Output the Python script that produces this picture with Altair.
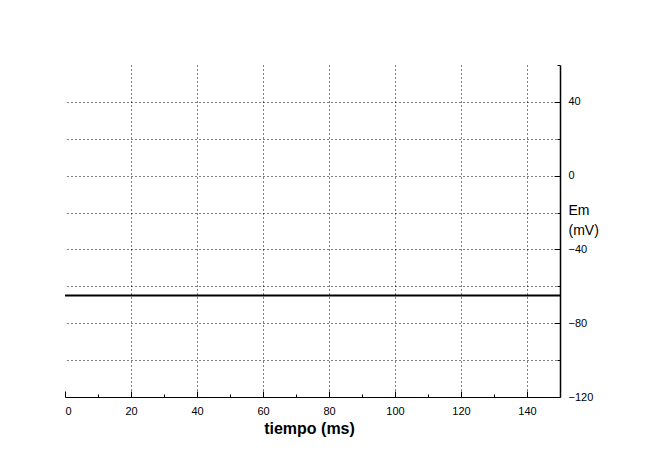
import altair as alt
import pandas as pd

# Data
time_ms = [0, 150]
em_mv = [-65, -65]

x_major = [0, 20, 40, 60, 80, 100, 120, 140]
x_minor = [10, 30, 50, 70, 90, 110, 130]
x_grid = [20, 40, 60, 80, 100, 120, 140]
y_major = [-120, -80, -40, 0, 40]
y_minor = [-100, -60, -20, 20, 60]
y_grid = [-100, -80, -60, -40, -20, 0, 20, 40]

df = pd.DataFrame({"t": time_ms, "em": em_mv})

FONT = "Liberation Sans"
xscale = alt.Scale(domain=[0, 150], nice=False, zero=False)
yscale = alt.Scale(domain=[-120, 60], nice=False, zero=False)

grid_layer = alt.Chart(df).mark_line(opacity=0).encode(
    x=alt.X("t:Q", scale=xscale, axis=alt.Axis(
        orient="bottom", values=x_grid, ticks=False, labels=False, domain=False,
        title=None, grid=True, gridColor="black", gridDash=[1, 3], gridWidth=1)),
    y=alt.Y("em:Q", scale=yscale, axis=alt.Axis(
        orient="right", values=y_grid, ticks=False, labels=False, domain=False,
        title=None, grid=True, gridColor="black", gridDash=[1, 3], gridWidth=1)),
)

minor = alt.Chart(df).mark_line(opacity=0).encode(
    x=alt.X("t:Q", scale=xscale, axis=alt.Axis(
        orient="bottom", values=x_minor, tickSize=alt.ExprRef("-3"),
        tickColor="black", tickWidth=1, domain=False, labels=False, title=None,
        grid=False)),
    y=alt.Y("em:Q", scale=yscale, axis=alt.Axis(
        orient="right", values=y_minor, tickSize=alt.ExprRef("-3"),
        tickColor="black", tickWidth=1, domain=False, labels=False, title=None,
        grid=False)),
)

main = alt.Chart(df).mark_line(color="black", strokeWidth=2).encode(
    x=alt.X("t:Q", scale=xscale, axis=alt.Axis(
        orient="bottom", values=x_major, tickSize=alt.ExprRef("-6"),
        tickColor="black", tickWidth=1, domainColor="black", domainWidth=1,
        labelFont=FONT, labelFontSize=11, labelColor="black", labelPadding=14,
        labelBaseline="top", grid=False,
        title="tiempo (ms)", titleFont=FONT, titleFontSize=16, titleFontWeight="bold",
        titleColor="black", titleBaseline="alphabetic", titleY=36, titleX=244)),
    y=alt.Y("em:Q", scale=yscale, axis=alt.Axis(
        orient="right", values=y_major, tickSize=alt.ExprRef("-6"),
        tickColor="black", tickWidth=1, domainColor="black", domainWidth=1.5,
        labelFont=FONT, labelFontSize=11, labelColor="black", labelPadding=14,
        labelAlign="left", labelBaseline="middle", grid=False,
        title=["Em", "(mV)"], titleFont=FONT, titleFontSize=14, titleFontWeight="normal",
        titleColor="black", titleAngle=0, titleAlign="left", titleBaseline="alphabetic",
        titleX=8, titleY=149, titleLineHeight=20)),
)

chart = alt.layer(grid_layer, minor, main).resolve_axis(
    x="independent", y="independent"
).properties(
    width=495, height=332,
    background="white",
    autosize=alt.AutoSizeParams(type="none"),
    padding={"left": 57, "top": 57, "right": 80, "bottom": 65},
).configure_view(strokeWidth=0, stroke="transparent")

chart.save("out.html", embed_options={"renderer": "svg", "actions": False})
